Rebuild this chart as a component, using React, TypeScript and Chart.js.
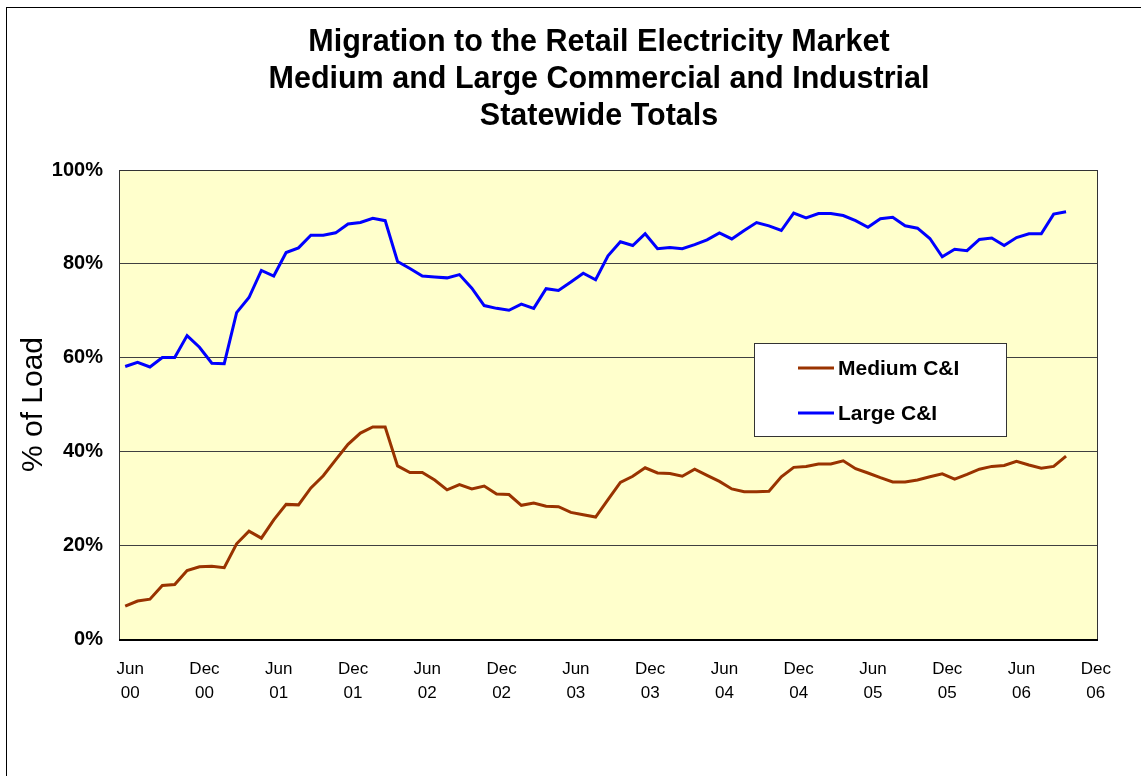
import { useEffect, useRef } from "react";
import { Chart, registerables } from "chart.js";

Chart.register(...registerables);

const MONTHS = ["Jan", "Feb", "Mar", "Apr", "May", "Jun", "Jul", "Aug", "Sep", "Oct", "Nov", "Dec"];
const FIRST_YEAR = 2000;
const FIRST_MONTH_INDEX = 5; // June
const CATEGORY_COUNT = 79; // Jun 00 .. Dec 06

const TICK_LABELS = [
  "Jun 00", "Dec 00", "Jun 01", "Dec 01", "Jun 02", "Dec 02", "Jun 03",
  "Dec 03", "Jun 04", "Dec 04", "Jun 05", "Dec 05", "Jun 06", "Dec 06",
];

const TITLE_LINES = [
  "Migration to the Retail Electricity Market",
  "Medium and Large Commercial and Industrial",
  "Statewide Totals",
];

const Y_TITLE = "% of Load";
const SERIES_NAMES = ["Medium C&I", "Large C&I"];

const MEDIUM_CI = [
  7.0, 8.1, 8.5, 11.4, 11.6, 14.6, 15.4, 15.5, 15.2, 20.3, 23.0, 21.5, 25.4, 28.7, 28.6, 32.2,
  34.8, 38.2, 41.5, 43.9, 45.2, 45.2, 36.9,
  35.5, 35.5, 33.9, 31.8, 32.9, 32.0, 32.6, 30.9, 30.8, 28.5, 29.0, 28.3, 28.2, 27.0, 26.5, 26.0,
  29.7, 33.4, 34.7, 36.5, 35.4, 35.3, 34.7, 36.2,
  34.9, 33.6, 32.0, 31.4, 31.4, 31.5, 34.6, 36.6, 36.8, 37.3, 37.3, 38.0, 36.3, 35.4, 34.4, 33.5,
  33.5, 33.9, 34.6, 35.2, 34.1, 35.1, 36.2, 36.8, 37.0, 37.9, 37.1, 36.4, 36.8, 39.0,
];

const LARGE_CI = [
  58.1, 59.0, 58.0, 60.0, 60.0, 64.7, 62.2, 58.8, 58.7, 69.6, 72.8, 78.6, 77.4, 82.4, 83.4, 86.1,
  86.1, 86.6, 88.5, 88.8, 89.7, 89.2, 80.5,
  79.0, 77.4, 77.2, 77.0, 77.7, 74.8, 71.1, 70.5, 70.1, 71.4, 70.5, 74.7, 74.3, 76.1, 78.0, 76.6,
  81.7, 84.7, 83.9, 86.4, 83.2, 83.5, 83.2, 84.1,
  85.1, 86.6, 85.3, 87.1, 88.8, 88.1, 87.1, 90.8, 89.8, 90.7, 90.7, 90.3, 89.2, 87.8, 89.6, 89.9,
  88.1, 87.6, 85.4, 81.5, 83.1, 82.8, 85.2, 85.5, 83.9, 85.6, 86.4, 86.4, 90.6, 91.1,
];

const CATEGORIES: string[] = [];
for (let i = 0; i < CATEGORY_COUNT; i++) {
  const m = FIRST_MONTH_INDEX + i;
  const year = FIRST_YEAR + Math.floor(m / 12);
  CATEGORIES.push(`${MONTHS[m % 12]} ${String(year % 100).padStart(2, "0")}`);
}

const MEDIUM_COLOR = "#993300";
const LARGE_COLOR = "#0000FF";
const FONT = "'Liberation Sans', Arial, Helvetica, sans-serif";

const decorPlugin = {
  id: "decor",
  beforeDraw(chart: any) {
    const { ctx, chartArea: a, width, height } = chart;
    ctx.save();
    ctx.fillStyle = "#ffffff";
    ctx.fillRect(0, 0, width, height);
    ctx.strokeStyle = "#000000";
    ctx.lineWidth = 1;
    ctx.strokeRect(6.5, 7.5, width + 50, height + 50);
    ctx.fillStyle = "#FFFFCC";
    ctx.fillRect(a.left, a.top, a.right - a.left, a.bottom - a.top);
    ctx.restore();
  },
  afterDraw(chart: any) {
    const { ctx, chartArea: a } = chart;
    ctx.save();
    // plot frame
    ctx.strokeStyle = "#333333";
    ctx.lineWidth = 1;
    ctx.strokeRect(Math.round(a.left) + 0.5, Math.round(a.top) + 0.5, Math.round(a.right - a.left), Math.round(a.bottom - a.top));
    ctx.strokeStyle = "#000000";
    ctx.lineWidth = 2;
    ctx.beginPath();
    ctx.moveTo(a.left, Math.round(a.bottom) + 1);
    ctx.lineTo(a.right + 1, Math.round(a.bottom) + 1);
    ctx.stroke();

    // title
    ctx.fillStyle = "#000000";
    ctx.font = `bold 30.5px ${FONT}`;
    ctx.textAlign = "center";
    ctx.textBaseline = "middle";
    const titleYs = [43, 80, 117];
    TITLE_LINES.forEach((t, i) => ctx.fillText(t, 599, titleYs[i]));

    // y axis title
    ctx.save();
    ctx.translate(34, (a.top + a.bottom) / 2);
    ctx.rotate(-Math.PI / 2);
    ctx.font = `30px ${FONT}`;
    ctx.fillText(Y_TITLE, 0, 0);
    ctx.restore();

    // legend
    const lx = 754.5, ly = 343.5, lw = 252, lh = 93;
    ctx.fillStyle = "#ffffff";
    ctx.fillRect(lx, ly, lw, lh);
    ctx.strokeStyle = "#333333";
    ctx.lineWidth = 1;
    ctx.strokeRect(lx, ly, lw, lh);
    const colors = [MEDIUM_COLOR, LARGE_COLOR];
    const rowYs = [368, 413];
    ctx.font = `bold 21px ${FONT}`;
    ctx.textAlign = "left";
    SERIES_NAMES.forEach((name, i) => {
      ctx.strokeStyle = colors[i];
      ctx.lineWidth = 3;
      ctx.beginPath();
      ctx.moveTo(798, rowYs[i]);
      ctx.lineTo(834, rowYs[i]);
      ctx.stroke();
      ctx.fillStyle = "#000000";
      ctx.fillText(name, 838, rowYs[i] + 1);
    });
    ctx.restore();
  },
};

export default function App() {
  const ref = useRef<HTMLCanvasElement>(null);
  useEffect(() => {
    document.body.style.margin = "0";
    const chart = new Chart(ref.current!, {
      type: "line",
      data: {
        labels: CATEGORIES,
        datasets: [
          {
            label: SERIES_NAMES[0],
            data: MEDIUM_CI,
            borderColor: MEDIUM_COLOR,
            backgroundColor: MEDIUM_COLOR,
            borderWidth: 3,
            pointRadius: 0,
            tension: 0,
          },
          {
            label: SERIES_NAMES[1],
            data: LARGE_CI,
            borderColor: LARGE_COLOR,
            backgroundColor: LARGE_COLOR,
            borderWidth: 3,
            pointRadius: 0,
            tension: 0,
          },
        ],
      },
      options: {
        responsive: false,
        animation: false,
        devicePixelRatio: 1,
        layout: { padding: { top: 170, left: 0, right: 44, bottom: 37 } },
        plugins: {
          legend: { display: false },
          tooltip: { enabled: false },
          title: { display: false },
        },
        scales: {
          x: {
            type: "category",
            offset: true,
            grid: { display: false, drawTicks: false },
            border: { display: false },
            ticks: {
              autoSkip: false,
              maxRotation: 0,
              minRotation: 0,
              padding: 18,
              labelOffset: 5,
              color: "#000000",
              font: { family: FONT, size: 17, lineHeight: 1.42 },
              callback: (_v: any, i: number) => {
                const lab = CATEGORIES[i];
                return TICK_LABELS.includes(lab) ? lab.split(" ") : "";
              },
            },
            afterFit: (s: any) => {
              s.height = 100;
            },
          },
          y: {
            min: 0,
            max: 100,
            grid: { color: "#404040", lineWidth: 1, drawTicks: false },
            border: { display: false },
            ticks: {
              stepSize: 20,
              padding: 16,
              color: "#000000",
              font: { family: FONT, size: 20, weight: "bold" },
              callback: (v: any) => `${v}%`,
            },
            afterFit: (s: any) => {
              s.width = 119;
            },
          },
        },
      },
      plugins: [decorPlugin],
    } as any);
    return () => chart.destroy();
  }, []);
  return (
    <div style={{ width: 1141, height: 776 }}>
      <canvas ref={ref} width={1141} height={776} style={{ display: "block" }} />
    </div>
  );
}
